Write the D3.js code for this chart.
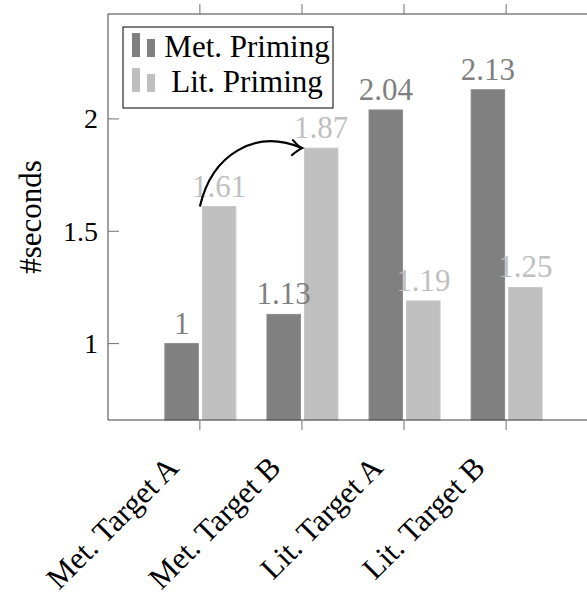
<!DOCTYPE html>
<html>
<head>
<meta charset="utf-8">
<script src="https://cdn.jsdelivr.net/npm/d3@7"></script>
<style>
  body { margin: 0; background: #fff; }
</style>
</head>
<body>
<div id="chart"></div>
<script>
// data
const categories = ["Met. Target A", "Met. Target B", "Lit. Target A", "Lit. Target B"];
const metPriming = [1, 1.13, 2.04, 2.13];
const litPriming = [1.61, 1.87, 1.19, 1.25];
const yTicks = [1, 1.5, 2];
const seriesNames = ["Met. Priming", "Lit. Priming"];

const width = 587, height = 599;
const margin = {top: 14, left: 108, right: -11, bottom: 179};
const serif = "'Liberation Serif', 'DejaVu Serif', 'Times New Roman', serif";

const svg = d3.select("#chart")
    .append("svg")
    .attr("width", width)
    .attr("height", height)
    .attr("font-family", serif);

const plotW = width - margin.left - margin.right;
const plotH = height - margin.top - margin.bottom;

const g = svg.append("g")
    .attr("transform", `translate(${margin.left},${margin.top})`);

// scales
const x = d3.scalePoint()
    .domain(categories)
    .range([0, plotW])
    .padding(0.9);

const xSub = d3.scaleBand()
    .domain(seriesNames)
    .range([-35, 36])
    .paddingInner(0.107);

const y = d3.scaleLinear()
    .domain([0.66, 2.467])
    .range([plotH, 0]);

const colors = {"Met. Priming": "#808080", "Lit. Priming": "#bfbfbf"};
const edge = {"Met. Priming": "#8c8c8c", "Lit. Priming": "#c8c8c8"};

// bars
const rows = categories.map((c, i) => ({cat: c, vals: [
    {s: "Met. Priming", v: metPriming[i]},
    {s: "Lit. Priming", v: litPriming[i]}
]}));

const groups = g.selectAll(".grp")
    .data(rows)
    .enter().append("g")
    .attr("transform", d => `translate(${x(d.cat)},0)`);

groups.selectAll("rect")
    .data(d => d.vals)
    .enter().append("rect")
    .attr("x", d => xSub(d.s))
    .attr("y", d => y(d.v))
    .attr("width", xSub.bandwidth())
    .attr("height", d => plotH - y(d.v))
    .attr("fill", d => colors[d.s])
    .attr("stroke", d => edge[d.s])
    .attr("stroke-width", 1);

groups.selectAll(".lbl")
    .data(d => d.vals)
    .enter().append("text")
    .attr("x", d => xSub(d.s) + xSub.bandwidth() / 2)
    .attr("y", d => y(d.v) - 10)
    .attr("text-anchor", "middle")
    .attr("font-size", 31)
    .attr("fill", d => colors[d.s])
    .text(d => d.v);

// axis frame
const axisColor = "#404040";
g.append("line").attr("x1", 0).attr("x2", plotW).attr("y1", plotH).attr("y2", plotH)
    .attr("stroke", axisColor).attr("stroke-width", 1);
g.append("line").attr("x1", 0).attr("x2", plotW).attr("y1", 0).attr("y2", 0)
    .attr("stroke", axisColor).attr("stroke-width", 1);
g.append("line").attr("x1", 0).attr("x2", 0).attr("y1", 0).attr("y2", plotH)
    .attr("stroke", axisColor).attr("stroke-width", 1);

// x ticks (outward, top and bottom)
categories.forEach(c => {
    g.append("line").attr("x1", x(c)).attr("x2", x(c)).attr("y1", plotH).attr("y2", plotH + 10)
        .attr("stroke", "#707070").attr("stroke-width", 1);
    g.append("line").attr("x1", x(c)).attr("x2", x(c)).attr("y1", 0).attr("y2", -10)
        .attr("stroke", "#707070").attr("stroke-width", 1);
});

// y ticks (inward)
yTicks.forEach(t => {
    g.append("line").attr("x1", 0).attr("x2", 11).attr("y1", y(t)).attr("y2", y(t))
        .attr("stroke", "#707070").attr("stroke-width", 1);
    g.append("text")
        .attr("x", -10)
        .attr("y", y(t))
        .attr("dy", "0.34em")
        .attr("text-anchor", "end")
        .attr("font-size", 28)
        .text(t);
});

// x labels, rotated
categories.forEach(c => {
    g.append("text")
        .attr("transform", `translate(${x(c) - 27},${plotH + 42}) rotate(-45)`)
        .attr("text-anchor", "end")
        .attr("dy", "0.34em")
        .attr("font-size", 31)
        .text(c);
});

// y label
svg.append("text")
    .attr("transform", `translate(41,${margin.top + plotH / 2}) rotate(-90)`)
    .attr("text-anchor", "middle")
    .attr("font-size", 31)
    .text("#seconds");

// arrow between the two lit bars
const p0 = [x(categories[0]), y(litPriming[0])];
const p1 = [x(categories[1]), y(litPriming[1])];
const arrow = d3.path();
arrow.moveTo(p0[0], p0[1]);
arrow.bezierCurveTo(p0[0] + 12, p0[1] - 52, p0[0] + 55, p1[1] - 20, p1[0], p1[1]);
g.append("path")
    .attr("d", arrow.toString())
    .attr("fill", "none")
    .attr("stroke", "#000")
    .attr("stroke-width", 2.2);
g.append("path")
    .attr("d", `M${p1[0] - 9},${p1[1] - 8} Q${p1[0] - 3},${p1[1] - 1} ${p1[0]},${p1[1]} Q${p1[0] - 4},${p1[1] + 2} ${p1[0] - 10},${p1[1] + 7}`)
    .attr("fill", "none")
    .attr("stroke", "#000")
    .attr("stroke-width", 2.2)
    .attr("stroke-linecap", "round");

// legend
const legend = g.append("g").attr("transform", "translate(15,13)");
legend.append("rect")
    .attr("x", 0).attr("y", 0)
    .attr("width", 210).attr("height", 81)
    .attr("fill", "#fff")
    .attr("stroke", "#000")
    .attr("stroke-width", 1);

const item = legend.selectAll(".item")
    .data(seriesNames)
    .enter().append("g")
    .attr("transform", (d, i) => `translate(0,${i * 35})`);

item.append("rect")
    .attr("x", 9).attr("y", 6).attr("width", 8).attr("height", 24)
    .attr("fill", d => colors[d]);
item.append("rect")
    .attr("x", 24).attr("y", 12).attr("width", 8).attr("height", 18)
    .attr("fill", d => colors[d]);
item.append("text")
    .attr("x", 124)
    .attr("y", 30)
    .attr("text-anchor", "middle")
    .attr("font-size", 31)
    .text(d => d);
</script>
</body>
</html>
